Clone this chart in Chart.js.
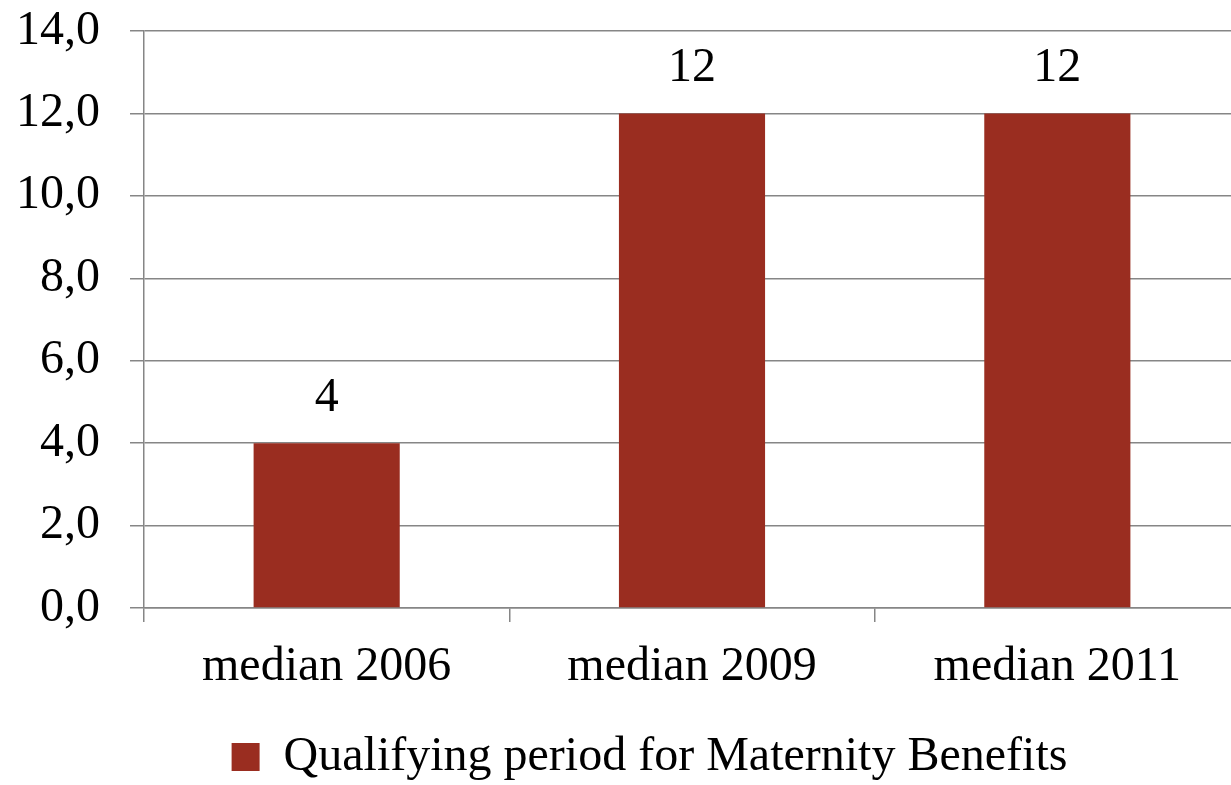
<!DOCTYPE html>
<html>
<head>
<meta charset="utf-8">
<script src="https://cdn.jsdelivr.net/npm/chart.js@4"></script>
<style>
  html, body { margin: 0; padding: 0; background: #fff; }
  #wrap { width: 1231px; height: 785px; }
</style>
</head>
<body>
<div id="wrap"><canvas id="barChart" width="1231" height="785"></canvas></div>
<script>
const categories = ["median 2006", "median 2009", "median 2011"];
const qualifyingPeriod = [4, 12, 12];
const seriesLabel = "Qualifying period for Maternity Benefits";
const yTicks = [0, 2, 4, 6, 8, 10, 12, 14];

const FONT = "'Liberation Serif', 'Times New Roman', serif";
const GRID = "#868686";
const BAR = "#9a2d20";

// value labels above each bar
const valueLabels = {
  id: "valueLabels",
  afterDatasetsDraw(chart) {
    const ctx = chart.ctx;
    const meta = chart.getDatasetMeta(0);
    ctx.save();
    ctx.font = "48px " + FONT;
    ctx.fillStyle = "#000";
    ctx.textAlign = "center";
    ctx.textBaseline = "alphabetic";
    meta.data.forEach((bar, i) => {
      ctx.fillText(String(qualifyingPeriod[i]), bar.x, bar.y - 32);
    });
    ctx.restore();
  },
};

// original: legend a bit right of centre and lower, plot runs past right edge
const layoutTweaks = {
  id: "layoutTweaks",
  afterLayout(chart) {
    const lg = chart.legend;
    lg.left += 34;
    lg.right += 34;
    lg.top += 6;
    lg.bottom += 6;

    const xs = chart.scales.x;
    xs.right += 9;
    xs.width += 9;
    xs.configure();
  },
};

const ctxBar = document.getElementById("barChart").getContext("2d");
new Chart(ctxBar, {
  type: "bar",
  data: {
    labels: categories,
    datasets: [
      {
        label: seriesLabel,
        data: qualifyingPeriod,
        backgroundColor: BAR,
        borderWidth: 0,
        barPercentage: 0.4,
        categoryPercentage: 1.0,
      },
    ],
  },
  options: {
    responsive: false,
    animation: false,
    layout: { padding: { top: 31, right: 0, bottom: 0, left: 0 } },
    plugins: {
      legend: {
        position: "bottom",
        labels: {
          font: { size: 48, family: FONT },
          color: "#000",
          boxWidth: 28,
          boxHeight: 28,
          padding: 7,
        },
      },
      tooltip: { enabled: false },
    },
    scales: {
      x: {
        afterFit: (scale) => { scale.height = 112; },
        ticks: {
          color: "#000",
          font: { size: 48, family: FONT },
          padding: 17,
          maxRotation: 0,
        },
        grid: {
          drawOnChartArea: false,
          color: GRID,
          lineWidth: 1.5,
          tickLength: 14,
        },
        border: { color: GRID, width: 1.5 },
      },
      y: {
        min: 0,
        max: 14,
        afterFit: (scale) => {
          scale.width = 144;
          scale.paddingTop = 0;
          scale.paddingBottom = 0;
        },
        afterBuildTicks: (scale) => {
          scale.ticks = yTicks.map((v) => ({ value: v }));
        },
        ticks: {
          color: "#000",
          font: { size: 48, family: FONT },
          padding: 30,
          callback: (v) => v.toFixed(1).replace(".", ","),
        },
        grid: {
          color: GRID,
          lineWidth: 1.5,
          tickLength: 14,
        },
        border: { color: GRID, width: 1.5 },
      },
    },
  },
  plugins: [valueLabels, layoutTweaks],
});
</script>
</body>
</html>
